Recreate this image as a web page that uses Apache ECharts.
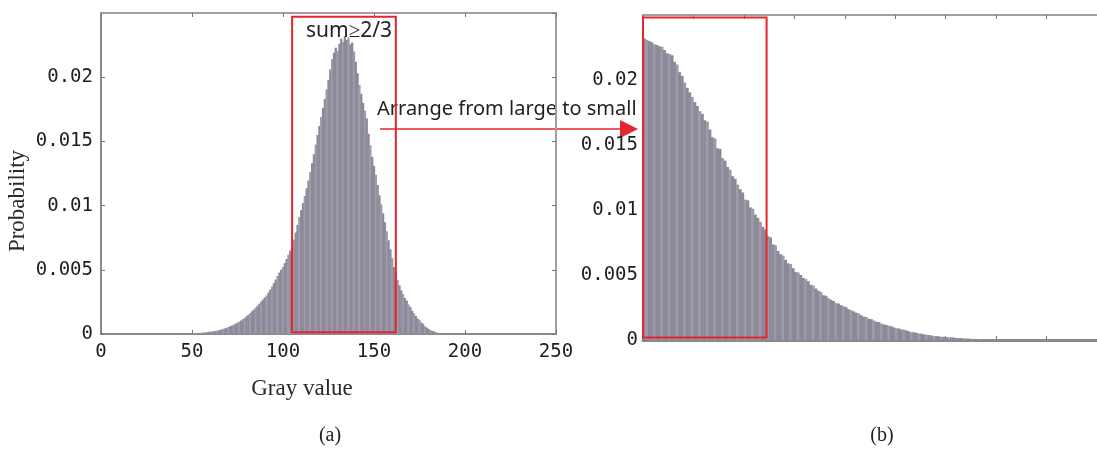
<!DOCTYPE html>
<html>
<head>
<meta charset="utf-8">
<script src="https://cdn.jsdelivr.net/npm/echarts@6/dist/echarts.min.js"></script>
<style>
html, body { margin: 0; padding: 0; background: #fff; }
#main { width: 1097px; height: 449px; }
</style>
</head>
<body>
<div id="main"></div>
<script>
// histogram of the gray image, bins firstBin.. (all other bins are 0)
var firstBin = 48;
var probability = [
    0.00002, 0.00003, 0.00004, 0.00005, 0.00006, 0.00007, 0.00008, 0.00009, 0.00011, 0.00012, // 48-57
    0.00014, 0.00016, 0.00018, 0.00020, 0.00022, 0.00024, 0.00027, 0.00030, 0.00034, 0.00038, // 58-67
    0.00043, 0.00048, 0.00054, 0.00060, 0.00066, 0.00073, 0.00080, 0.00088, 0.00096, 0.00105, // 68-77
    0.00115, 0.00126, 0.00138, 0.00150, 0.00163, 0.00177, 0.00191, 0.00205, 0.00220, 0.00236, // 78-87
    0.00252, 0.00268, 0.00285, 0.00300, 0.00322, 0.00345, 0.00370, 0.00396, 0.00424, 0.00452, // 88-97
    0.00478, 0.00500, 0.00522, 0.00552, 0.00584, 0.00617, 0.00650, 0.00685, 0.00735, 0.00790, // 98-107
    0.00850, 0.00910, 0.00965, 0.01020, 0.01075, 0.01135, 0.01195, 0.01260, 0.01330, 0.01400, // 108-117
    0.01475, 0.01550, 0.01620, 0.01690, 0.01760, 0.01830, 0.01905, 0.01980, 0.02060, 0.02140, // 118-127
    0.02190, 0.02230, 0.02205, 0.02260, 0.02300, 0.02275, 0.02320, 0.02290, 0.02310, 0.02255, // 128-137
    0.02270, 0.02200, 0.02120, 0.02030, 0.01940, 0.01870, 0.01800, 0.01740, 0.01680, 0.01560, // 138-147
    0.01470, 0.01380, 0.01310, 0.01240, 0.01160, 0.01080, 0.01010, 0.00940, 0.00870, 0.00800, // 148-157
    0.00730, 0.00660, 0.00590, 0.00520, 0.00470, 0.00420, 0.00380, 0.00340, 0.00310, 0.00280, // 158-167
    0.00260, 0.00230, 0.00210, 0.00180, 0.00160, 0.00140, 0.00120, 0.00110, 0.00090, 0.00080, // 168-177
    0.00060, 0.00050, 0.00040, 0.00030, 0.00025, 0.00020, 0.00015, 0.00010, 0.00007, 0.00005, // 178-187
    0.00003, 0.00002, 0.00001                                                                  // 188-190
];

// red boxes
var grayBox = [105, 162];      // gray values kept in (a)
var rankBox = [0, 49];         // first ranks in (b)

var sumText = 'sum≥2/3';
var arrowText = 'Arrange from large to small';

// sorted from large to small for (b)
var sorted = probability.slice().sort(function (a, b) { return b - a; });

var histData = probability.map(function (p, k) { return [firstBin + k, p]; });
var sortedData = sorted.map(function (p, k) { return [k + 0.5, p]; });

var barColor = function (p) {
    return p.dataIndex % 3 === 1 ? '#9e9aa9' : '#8d8999';
};
var tickFont = { fontFamily: 'DejaVu Sans Mono', fontSize: 19, color: '#1e1e1e' };
var red = '#e5262e';

function frameAxis(grid, pos, max, interval, lineColor) {
    return {
        gridIndex: grid, type: 'value', position: pos, min: 0, max: max, interval: interval,
        axisLine: { show: true, onZero: false, lineStyle: { color: lineColor, width: 2 } },
        axisTick: { show: true, inside: true, length: 4, lineStyle: { color: '#777' } },
        axisLabel: { show: false },
        splitLine: { show: false }
    };
}

var xLeft = frameAxis(0, 'bottom', 250, 50, '#8a8a8a');
xLeft.axisLabel = Object.assign({ show: true, margin: 9 }, tickFont);

var yLeft = frameAxis(0, 'left', 0.025, 0.005, '#8a8a8a');
yLeft.axisLabel = Object.assign({ show: true, margin: 8, showMaxLabel: false }, tickFont);

var xRight = frameAxis(1, 'bottom', 180, 20, '#8a8a8a');
xRight.axisLine.lineStyle.width = 3;

var yRight = frameAxis(1, 'left', 0.025, 0.005, '#8a8a8a');
yRight.axisLabel = Object.assign({ show: true, margin: 5, showMaxLabel: false }, tickFont);

var boxStyle = { color: 'rgba(0,0,0,0)', borderColor: red, borderWidth: 2 };

option = {
    animation: false,
    grid: [
        { left: 101, top: 13, right: 541, bottom: 115 },
        { left: 643, top: 15, right: -10, bottom: 109 }
    ],
    xAxis: [
        xLeft,
        frameAxis(0, 'top', 250, 50, '#a0a0a0'),
        xRight,
        frameAxis(1, 'top', 180, 20, '#a0a0a0')
    ],
    yAxis: [
        yLeft,
        frameAxis(0, 'right', 0.025, 0.005, '#a0a0a0'),
        yRight
    ],
    series: [
        {
            name: 'histogram',
            type: 'bar',
            xAxisIndex: 0,
            yAxisIndex: 0,
            data: histData,
            barWidth: 2.3,
            itemStyle: { color: barColor },
            markArea: {
                silent: true,
                z: 5,
                itemStyle: boxStyle,
                label: {
                    show: true, position: 'insideTop', distance: 5, offset: [5, 0],
                    formatter: sumText, fontFamily: 'Noto Sans', fontSize: 21, color: '#222'
                },
                data: [[
                    { xAxis: grayBox[0], yAxis: 0.00014 },
                    { xAxis: grayBox[1], yAxis: 0.0247 }
                ]]
            }
        },
        {
            name: 'sorted',
            type: 'bar',
            xAxisIndex: 2,
            yAxisIndex: 2,
            data: sortedData,
            barWidth: 3.1,
            itemStyle: { color: barColor },
            markArea: {
                silent: true,
                z: 5,
                itemStyle: boxStyle,
                label: { show: false },
                data: [[
                    { xAxis: rankBox[0], yAxis: 0.0002 },
                    { xAxis: rankBox[1], yAxis: 0.0248 }
                ]]
            }
        }
    ],
    graphic: [
        {
            type: 'text', x: 18, y: 201, rotation: Math.PI / 2,
            style: { text: 'Probability', font: '23px "Liberation Serif"', fill: '#2a2a2a', align: 'center', verticalAlign: 'middle' }
        },
        {
            type: 'text', x: 302, y: 389,
            style: { text: 'Gray value', font: '23px "Liberation Serif"', fill: '#2a2a2a', align: 'center', verticalAlign: 'middle' }
        },
        {
            type: 'text', x: 330, y: 436,
            style: { text: '(a)', font: '20px "Liberation Serif"', fill: '#222', align: 'center', verticalAlign: 'middle' }
        },
        {
            type: 'text', x: 882, y: 436,
            style: { text: '(b)', font: '20px "Liberation Serif"', fill: '#222', align: 'center', verticalAlign: 'middle' }
        },
        {
            type: 'text', x: 377, y: 109,
            style: { text: arrowText, font: '20px "Noto Sans"', fill: '#222', align: 'left', verticalAlign: 'middle' }
        },
        {
            type: 'line',
            shape: { x1: 380, y1: 129, x2: 624, y2: 129 },
            style: { stroke: red, lineWidth: 1.5 }
        },
        {
            type: 'polygon',
            shape: { points: [[620, 120], [638, 129], [620, 138]] },
            style: { fill: red }
        }
    ]
};

var myChart = echarts.init(document.getElementById('main'));
myChart.setOption(option);
</script>
</body>
</html>
